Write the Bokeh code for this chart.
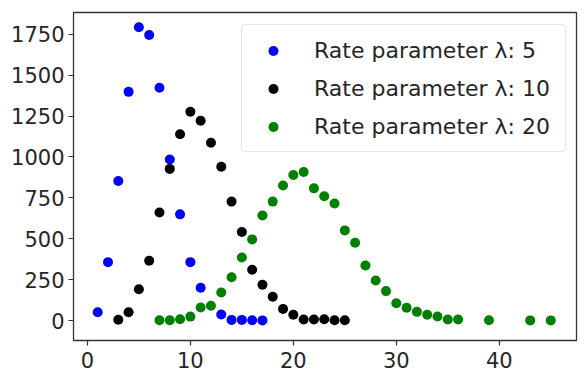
from bokeh.plotting import figure
from bokeh.models import FixedTicker, Range1d, Legend, LegendItem
from bokeh.embed import file_html
from bokeh.resources import INLINE

blue_x = [1, 2, 3, 4, 5, 6, 7, 8, 9, 10, 11, 13, 14, 15, 16, 17]
blue_y = [51, 357, 853, 1398, 1793, 1746, 1423, 984, 649, 357, 200, 37, 4, 4, 2, 1]

black_x = [3, 4, 5, 6, 7, 8, 9, 10, 11, 12, 13, 14, 15, 16, 17, 18, 19, 20, 21, 22, 23, 24, 25]
black_y = [5, 51, 191, 365, 660, 927, 1139, 1276, 1221, 1087, 940, 727, 541, 310, 219, 145, 71, 35, 6, 6, 8, 2, 2]

green_x = [7, 8, 9, 10, 11, 12, 13, 14, 15, 16, 17, 18, 19, 20, 21, 22, 23, 24, 25, 26,
           27, 28, 29, 30, 31, 32, 33, 34, 35, 36, 39, 43, 45]
green_y = [2, 2, 8, 24, 80, 90, 171, 265, 385, 496, 642, 727, 826, 890, 908, 808, 760, 716, 551, 475,
           337, 245, 180, 106, 78, 53, 35, 25, 6, 6, 2, 1, 1]

labels = ["Rate parameter λ: 5", "Rate parameter λ: 10", "Rate parameter λ: 20"]
x_ticks = [0, 10, 20, 30, 40]
y_ticks = [0, 250, 500, 750, 1000, 1250, 1500, 1750]

FONT = "DejaVu Sans"
TXT = "#262626"

p = figure(frame_width=503, frame_height=328, output_backend="svg", toolbar_location=None,
           x_range=Range1d(-1.35, 47.5), y_range=Range1d(-122, 1883),
           min_border_left=73, min_border_top=12, min_border_right=11, min_border_bottom=43)

r1 = p.scatter(blue_x, blue_y, size=10, color="#0000ff", line_color=None)
r2 = p.scatter(black_x, black_y, size=10, color="#000000", line_color=None)
r3 = p.scatter(green_x, green_y, size=10, color="#008000", line_color=None)

p.xgrid.visible = False
p.ygrid.visible = False
p.outline_line_color = "#333333"
p.outline_line_width = 1.3
p.outline_line_alpha = 1

for ax in (p.xaxis[0], p.yaxis[0]):
    ax.axis_line_color = None
    ax.minor_tick_line_color = None
    ax.major_tick_in = 0
    ax.major_tick_out = 5
    ax.major_tick_line_color = "#333333"
    ax.major_tick_line_width = 1.2
    ax.major_label_text_font = FONT
    ax.major_label_text_font_size = "21px"
    ax.major_label_text_color = TXT
    ax.major_label_standoff = 4
p.xaxis[0].major_label_standoff = 6

p.xaxis[0].ticker = FixedTicker(ticks=x_ticks)
p.yaxis[0].ticker = FixedTicker(ticks=y_ticks)

legend = Legend(items=[LegendItem(label=labels[0], renderers=[r1]),
                       LegendItem(label=labels[1], renderers=[r2]),
                       LegendItem(label=labels[2], renderers=[r3])],
                location=(168, 188))
legend.label_text_font = FONT
legend.label_text_font_size = "22px"
legend.label_text_color = TXT
legend.glyph_width = 50
legend.glyph_height = 25
legend.label_height = 38
legend.label_width = 245
legend.label_standoff = 16
legend.spacing = 0
legend.padding = 6
legend.margin = 0
legend.border_line_color = "#cccccc"
legend.border_line_width = 1
legend.background_fill_alpha = 0.8
if "border_radius" in legend.properties():
    legend.border_radius = 4
p.add_layout(legend, "center")

open("out.html", "w").write(file_html(p, INLINE))
